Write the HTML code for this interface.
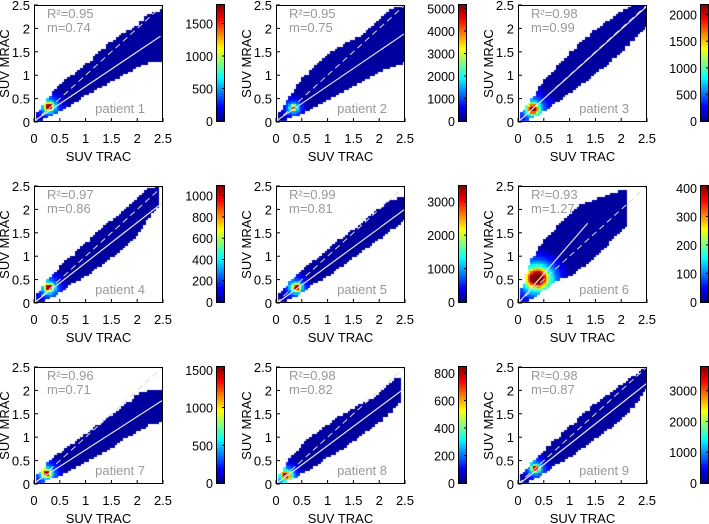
<!DOCTYPE html>
<html><head><meta charset="utf-8"><style>
html,body{margin:0;padding:0;background:#fff;}
#root{position:relative;width:709px;height:524px;overflow:hidden;font-family:"Liberation Sans",sans-serif;}
canvas{position:absolute;}
svg{position:absolute;left:0;top:0;}
</style></head><body>
<div id="root">
<svg id="svg" width="709" height="524"></svg>
</div>
<script>
// ---- data ----
const envX = [0.1,0.25,0.5,0.75,1,1.25,1.5,1.75,2,2.25,2.5];
const patients = ["patient 1","patient 2","patient 3","patient 4","patient 5","patient 6","patient 7","patient 8","patient 9"];
const r2Labels = ["0.95","0.95","0.98","0.97","0.99","0.93","0.96","0.98","0.98"];
const slopes = [0.74,0.75,0.99,0.86,0.81,1.27,0.71,0.82,0.87];
const intercepts = [0.02,0.02,0.0,0.0,-0.02,-0.01,0.02,0.0,-0.02];
const fitXMax = [2.45,2.5,2.5,2.5,2.5,1.35,2.5,2.5,2.5];
const dataXMax = [2.5,2.5,2.5,2.4,2.5,2.1,2.5,2.4,2.5];
const envLo = [
 [0.05,0.12,0.25,0.42,0.6,0.75,0.9,1.05,1.2,1.3,1.3],
 [0.05,0.1,0.2,0.35,0.5,0.65,0.8,0.95,1.1,1.2,1.3],
 [0.05,0.1,0.25,0.45,0.65,0.85,1.05,1.3,1.55,1.8,2.1],
 [0.05,0.1,0.25,0.45,0.6,0.8,1.0,1.2,1.5,1.9,2.2],
 [0.05,0.1,0.25,0.45,0.6,0.8,1.0,1.2,1.4,1.6,1.8],
 [0.05,0.1,0.3,0.5,0.6,0.8,1.0,1.3,1.6,1.8,1.9],
 [0.05,0.1,0.2,0.35,0.5,0.65,0.8,1.0,1.15,1.3,1.35],
 [0.05,0.1,0.25,0.4,0.6,0.75,0.95,1.15,1.35,1.6,1.9],
 [0.05,0.1,0.25,0.45,0.6,0.8,1.0,1.2,1.45,1.7,2.1]];
const envHi = [
 [0.2,0.45,0.8,1.0,1.2,1.45,1.7,1.9,2.05,2.3,2.4],
 [0.2,0.5,0.9,1.15,1.45,1.6,1.75,1.9,2.2,2.4,2.5],
 [0.2,0.45,0.85,1.15,1.45,1.7,1.95,2.15,2.35,2.5,2.5],
 [0.2,0.45,0.75,1.0,1.25,1.5,1.75,1.95,2.2,2.45,2.5],
 [0.2,0.4,0.65,0.9,1.1,1.35,1.55,1.75,2.0,2.2,2.25],
 [0.3,0.9,1.3,1.6,1.9,2.1,2.2,2.3,2.4,2.45,2.45],
 [0.2,0.4,0.65,0.85,1.05,1.25,1.45,1.65,1.9,2.0,2.0],
 [0.2,0.5,0.8,1.05,1.25,1.45,1.6,1.75,1.9,2.2,2.3],
 [0.2,0.4,0.7,0.95,1.2,1.45,1.7,1.9,2.1,2.3,2.5]];
const peakX = [0.3,0.35,0.3,0.3,0.4,0.38,0.25,0.2,0.35];
const peakY = [0.35,0.32,0.3,0.35,0.35,0.55,0.25,0.2,0.35];
const peakSpread = [0.06,0.04,0.08,0.06,0.06,0.13,0.06,0.07,0.05];
const haloSpread = [0.2,0.15,0.25,0.2,0.18,0.3,0.2,0.2,0.18];
const haloWeight = [0.3,0.3,0.3,0.3,0.3,0.5,0.3,0.3,0.3];
const cbMax = [1800,5200,2200,1100,3500,410,1550,850,3800];
const cbTicks = [[0,500,1000,1500],[0,1000,2000,3000,4000,5000],[0,500,1000,1500,2000],
 [0,200,400,600,800,1000],[0,1000,2000,3000],[0,100,200,300,400],[0,500,1000,1500],
 [0,200,400,600,800],[0,1000,2000,3000]];
const axisTicks = [0,0.5,1,1.5,2,2.5];
const axisTickLabels = ["0","0.5","1","1.5","2","2.5"];

// ---- layout ----
const colLeft=[34,276,518], rowTop=[5,186,367], PW=129, PH=117, cbW=9, cbOff=182;
const NS="http://www.w3.org/2000/svg";
const svg=document.getElementById('svg');
const root=document.getElementById('root');
function mk(tag,attrs,parent){const e=document.createElementNS(NS,tag);for(const k in attrs)e.setAttribute(k,attrs[k]);(parent||svg).appendChild(e);return e;}
function jet(v){v=Math.max(0,Math.min(1,v));
 const r=Math.max(0,Math.min(1,1.5-Math.abs(4*v-3))),g=Math.max(0,Math.min(1,1.5-Math.abs(4*v-2))),b=Math.max(0,Math.min(1,1.5-Math.abs(4*v-1)));
 return `rgb(${Math.round(r*255)},${Math.round(g*255)},${Math.round(b*255)})`;}
function interp(arr,x){if(x<=envX[0])return arr[0];for(let i=1;i<envX.length;i++){if(x<=envX[i]){const t=(x-envX[i-1])/(envX[i]-envX[i-1]);return arr[i-1]+t*(arr[i]-arr[i-1]);}}return arr[arr.length-1];}

for(let p=0;p<9;p++){
 const L=colLeft[p%3], T=rowTop[Math.floor(p/3)];
 const sx=v=>L+v/2.5*PW, sy=v=>T+PH-v/2.5*PH;
 const g=mk('g',{});
 
 
 const cv=document.createElement('canvas');cv.width=PW;cv.height=PH;cv.style.left=L+'px';cv.style.top=T+'px';
 
 
 root.insertBefore(cv,svg);
 const ctx=cv.getContext('2d');const N=50,bw=2.5/N;
 for(let i=1;i<N;i++){const x=(i+0.5)*bw;if(x>dataXMax[p])continue;
  const lo=interp(envLo[p],x),hi=interp(envHi[p],x);
  for(let j=0;j<N;j++){const y=(j+0.5)*bw;if(y<lo||y>hi)continue;
   const dx=x-peakX[p],dy=y-peakY[p],s=peakSpread[p],h=haloSpread[p];
   const r2=dx*dx+dy*dy;
   let v=0.8*Math.exp(-r2/(2*s*s))+haloWeight[p]*Math.exp(-r2/(2*h*h));
   v=Math.min(1,v); if(v<0.06)v=0.03;
   ctx.fillStyle=jet(v);
   ctx.fillRect(Math.floor(i*bw/2.5*PW),Math.floor(PH-(j+1)*bw/2.5*PH),Math.ceil(PW/N)+1,Math.ceil(PH/N)+1);}}
 const idl=mk('line',{x1:sx(0),y1:sy(0),x2:sx(2.5),y2:sy(2.5),stroke:'#ddd','stroke-width':1,'stroke-dasharray':'6,4'},g);
 
 const fx0=0.05, fl=mk('line',{x1:sx(fx0),y1:sy(slopes[p]*fx0+intercepts[p]),x2:sx(fitXMax[p]),y2:sy(slopes[p]*fitXMax[p]+intercepts[p]),stroke:'#e4e4e4','stroke-width':1.2},g);
 
 const fr=mk('rect',{x:L+0.5,y:T+0.5,width:PW-1,height:PH-1,fill:'none',stroke:'#000','stroke-width':1},g);
 
 axisTicks.forEach((t,k)=>{
  mk('line',{x1:sx(t),y1:T+PH,x2:sx(t),y2:T+PH-4,stroke:'#000'},g);
  mk('line',{x1:L,y1:sy(t),x2:L+4,y2:sy(t),stroke:'#000'},g);
  const xl=mk('text',{x:sx(t),y:T+PH+21,'text-anchor':'middle','font-size':13,fill:'#000'},g);xl.textContent=axisTickLabels[k];
  
  const yl=mk('text',{x:L-4,y:sy(t)+5,'text-anchor':'end','font-size':13,fill:'#000'},g);yl.textContent=axisTickLabels[k];
  
 });
 const xt=mk('text',{x:L+PW/2,y:T+PH+39,'text-anchor':'middle','font-size':13},g);xt.textContent='SUV TRAC';
 
 const yx=L-25, yy=T+PH/2;
 const yt=mk('text',{x:yx,y:yy,'text-anchor':'middle','font-size':13,transform:`rotate(-90 ${yx} ${yy})`},g);yt.textContent='SUV MRAC';
 
 const a1=mk('text',{x:L+13,y:T+13,'font-size':13,fill:'#999'},g);a1.textContent='R²='+r2Labels[p];
 
 const a2=mk('text',{x:L+13,y:T+27,'font-size':13,fill:'#999'},g);a2.textContent='m='+slopes[p].toFixed(2);
 
 const pl=mk('text',{x:L+PW-18,y:T+PH-9,'text-anchor':'end','font-size':13,fill:'#999'},g);pl.textContent=patients[p];
 
 const cx=L+cbOff, cg=mk('g',{});
 
 const S=60;for(let k=0;k<S;k++){mk('rect',{x:cx,y:T-1+PH*(S-1-k)/S,width:cbW,height:PH/S+0.6,fill:jet((k+0.5)/S)},cg);}
 mk('rect',{x:cx+0.5,y:T-0.5,width:cbW-1,height:PH,fill:'none',stroke:'#000'},cg);
 cbTicks[p].forEach(t=>{const yv=T-1+PH-t/cbMax[p]*PH;
  mk('line',{x1:cx+cbW-3,y1:yv,x2:cx+cbW,y2:yv,stroke:'#000'},cg);
  const tl=mk('text',{x:cx-3,y:yv+5,'text-anchor':'end','font-size':12.5},cg);tl.textContent=t;
  });
}
</script>
</body></html>
